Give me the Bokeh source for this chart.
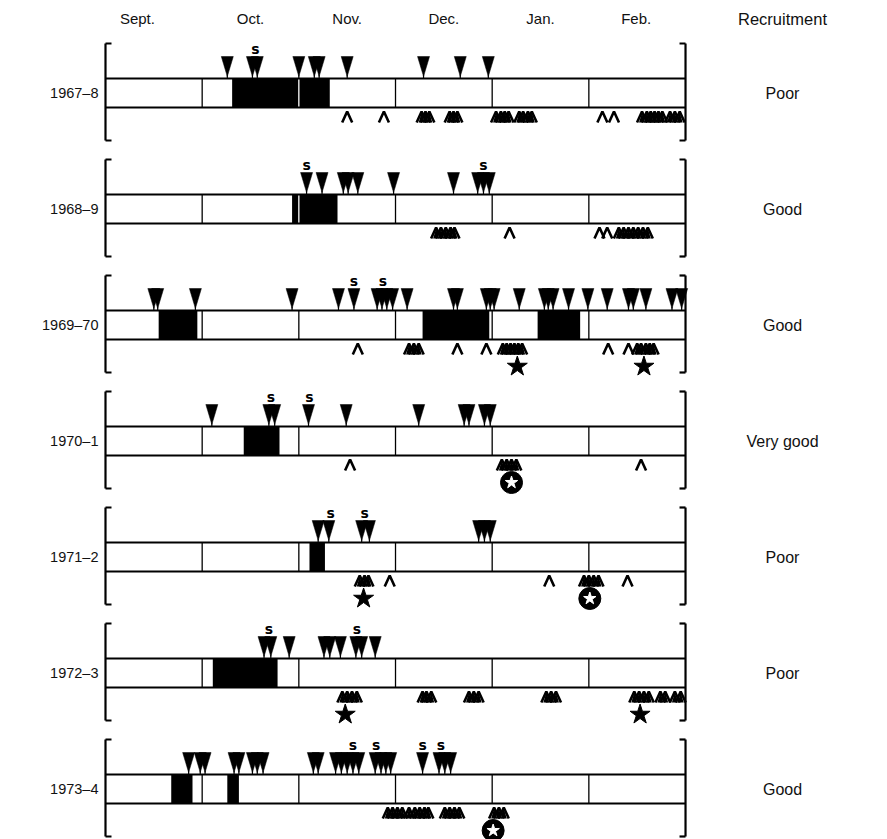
from bokeh.plotting import figure
from bokeh.models import Range1d
from bokeh.core.properties import value
from bokeh.embed import file_html
from bokeh.resources import INLINE

# ---------------- data (x in months from 1 Sept; 0=Sept 1 ... 6=Mar 1) ----------------
months = ["Sept.", "Oct.", "Nov.", "Dec.", "Jan.", "Feb."]
month_label_pos = [0.33, 1.50, 2.50, 3.50, 4.50, 5.49]
seasons = ["1967\u20138", "1968\u20139", "1969\u201370", "1970\u20131", "1971\u20132", "1972\u20133", "1973\u20134"]
recruitment = ["Poor", "Good", "Good", "Very good", "Poor", "Poor", "Good"]

arrivals = [
    [1.26, 1.52, 1.57, 2.00, 2.16, 2.21, 2.50, 3.29, 3.67, 3.96],
    [2.08, 2.24, 2.46, 2.51, 2.61, 2.98, 3.60, 3.85, 3.91, 3.97],
    [0.50, 0.54, 0.93, 1.93, 2.41, 2.57, 2.81, 2.86, 2.91, 2.97, 3.12, 3.60, 3.64,
     3.94, 3.98, 4.02, 4.28, 4.54, 4.58, 4.63, 4.79, 4.99, 5.19, 5.41, 5.46, 5.59, 5.86, 5.96],
    [1.10, 1.69, 1.75, 2.10, 2.49, 3.24, 3.71, 3.76, 3.92, 3.98],
    [2.20, 2.31, 2.65, 2.73, 3.86, 3.92, 3.98],
    [1.64, 1.71, 1.90, 2.26, 2.32, 2.43, 2.59, 2.65, 2.79],
    [0.86, 0.98, 1.03, 1.33, 1.38, 1.52, 1.57, 1.63, 2.15, 2.20, 2.38, 2.44, 2.50,
     2.56, 2.62, 2.79, 2.85, 2.90, 2.95, 3.28, 3.45, 3.51, 3.57],
]
s_marks = [
    [1.55], [2.08, 3.91], [2.57, 2.87], [1.71, 2.11], [2.33, 2.68], [1.69, 2.60],
    [2.56, 2.80, 3.28, 3.47],
]
bars = [
    [(1.31, 2.32)],
    [(1.93, 2.40)],
    [(0.55, 0.95), (3.28, 3.97), (4.47, 4.91)],
    [(1.43, 1.80)],
    [(2.11, 2.27)],
    [(1.11, 1.78)],
    [(0.68, 0.90), (1.26, 1.38)],
]
departures = [
    [2.50, 2.88, 3.27, 3.31, 3.35, 3.56, 3.60, 3.64, 4.04, 4.09, 4.13, 4.17, 4.28, 4.32,
     4.37, 4.41, 5.14, 5.26, 5.55, 5.60, 5.64, 5.68, 5.72, 5.76, 5.84, 5.89, 5.94],
    [3.42, 3.47, 3.52, 3.57, 3.61, 4.18, 5.11, 5.19, 5.31, 5.36, 5.41, 5.46, 5.51, 5.56, 5.61],
    [2.61, 3.14, 3.19, 3.24, 3.64, 3.94, 4.11, 4.15, 4.19, 4.23, 4.27, 4.31, 5.20, 5.41,
     5.50, 5.54, 5.59, 5.63, 5.67],
    [2.53, 4.10, 4.15, 4.20, 4.25, 5.54],
    [2.63, 2.68, 2.72, 2.94, 4.59, 4.95, 5.00, 5.05, 5.10, 5.40],
    [2.45, 2.50, 2.55, 2.60, 3.28, 3.32, 3.37, 3.76, 3.81, 3.86, 4.56, 4.61, 4.66, 5.47,
     5.52, 5.57, 5.62, 5.74, 5.79, 5.89, 5.95],
    [2.92, 2.97, 3.02, 3.07, 3.14, 3.20, 3.25, 3.30, 3.34, 3.51, 3.56, 3.61, 3.66, 4.02,
     4.07, 4.12],
]
stars = [[], [], [4.26, 5.57], [], [2.67], [2.48, 5.53], []]
circled_stars = [[], [], [], [4.20], [5.01], [], [4.01]]

# ---------------- layout ----------------
W, H = 887, 839
MPX = 96.67          # pixels per month
X0 = 105             # pixel of Sept 1
ROW0, ROWSTEP, BOXH = 78, 116, 29
FONT = value("Liberation Sans")

def px(n):
    return n / MPX

p = figure(width=W, height=H, output_backend="svg", toolbar_location=None,
           x_range=Range1d(-X0 / MPX, (W - X0) / MPX), y_range=Range1d(H, 0),
           x_axis_type=None, y_axis_type=None, min_border=0)
p.grid.visible = False
p.outline_line_color = None
p.background_fill_color = "white"

# header texts
p.text(x=month_label_pos, y=[18] * len(months), text=months, text_font=FONT,
       text_font_size="15px", text_align="center", text_baseline="middle", text_color="#111")
p.text(x=[(782 - X0) / MPX], y=[18], text=["Recruitment"], text_font=FONT,
       text_font_size="16.5px", text_align="center", text_baseline="middle", text_color="#111")

for i, season in enumerate(seasons):
    top = ROW0 + ROWSTEP * i
    bot = top + BOXH
    mid = (top + bot) / 2
    btop, bbot = top - 35, bot + 33

    # black bars
    for (a, b) in bars[i]:
        p.quad(left=a, right=b, top=top, bottom=bot, fill_color="black", line_color=None)
    # month dividers
    for m in range(1, 6):
        inside = any(a < m < b for (a, b) in bars[i])
        p.segment(x0=m, y0=top, x1=m, y1=bot, line_color="white" if inside else "black",
                  line_width=1.3)
    # box lines
    p.segment(x0=[0, 0], y0=[top, bot], x1=[6, 6], y1=[top, bot], line_color="black", line_width=2.2)
    # brackets
    t = px(6)
    p.segment(x0=[0, 0, 0, 6, 6, 6 - t], y0=[btop, btop, bbot, btop, btop, bbot],
              x1=[0, t, t, 6, 6 - t, 6], y1=[bbot, btop, bbot, bbot, btop, bbot],
              line_color="black", line_width=2.2)

    # arrival triangles (pointing down)
    hw = px(6)
    xs = [[x - hw, x + hw, x] for x in arrivals[i]]
    ys = [[top - 22, top - 22, top - 2] for _ in arrivals[i]]
    p.patches(xs=xs, ys=ys, fill_color="black", line_color="black", line_width=0.5)
    p.segment(x0=arrivals[i], y0=[top - 4] * len(arrivals[i]), x1=arrivals[i],
              y1=[top] * len(arrivals[i]), line_color="black", line_width=1.2)
    # s labels
    if s_marks[i]:
        p.text(x=s_marks[i], y=[top - 30] * len(s_marks[i]), text=["s"] * len(s_marks[i]),
               text_font=value("DejaVu Sans"), text_font_style="bold", text_font_size="14px",
               text_align="center", text_baseline="middle", text_color="black")

    # departure carets; bunched ones look filled
    dep = departures[i]
    cw = px(5)
    bunched = [x for k, x in enumerate(dep)
               if any(abs(x - o) < 0.07 for j, o in enumerate(dep) if j != k)]
    if bunched:
        fw = px(3)
        p.patches(xs=[[x - fw, x, x + fw] for x in bunched],
                  ys=[[bot + 15, bot + 5, bot + 15] for _ in bunched],
                  fill_color="black", line_color=None)
    cxs = [[x - cw, x, x + cw] for x in dep]
    cys = [[bot + 15, bot + 4, bot + 15] for _ in dep]
    p.multi_line(xs=cxs, ys=cys, line_color="black", line_width=2.6)

    # stars
    if stars[i]:
        p.scatter(x=stars[i], y=[bot + 27] * len(stars[i]), marker="star", size=21,
                  fill_color="black", line_color="black")
    if circled_stars[i]:
        p.scatter(x=circled_stars[i], y=[bot + 27] * len(circled_stars[i]), marker="circle",
                  size=22, fill_color="black", line_color="black")
        p.scatter(x=circled_stars[i], y=[bot + 27] * len(circled_stars[i]), marker="star",
                  size=13, fill_color="white", line_color="white")

    # labels
    p.text(x=[(98 - X0) / MPX], y=[mid], text=[season], text_font=FONT, text_font_size="14.5px",
           text_align="right", text_baseline="middle", text_color="#111")
    p.text(x=[(782 - X0) / MPX], y=[mid], text=[recruitment[i]], text_font=FONT,
           text_font_size="16px", text_align="center", text_baseline="middle", text_color="#111")

open("out.html", "w").write(file_html(p, INLINE))
